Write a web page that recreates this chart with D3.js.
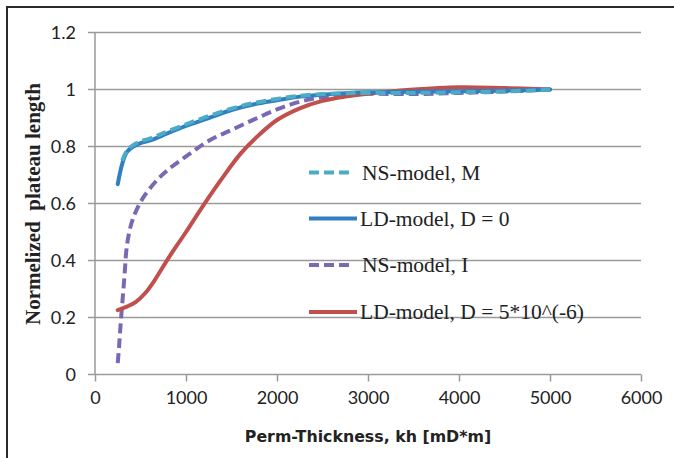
<!DOCTYPE html>
<html>
<head>
<meta charset="utf-8">
<script src="https://cdn.jsdelivr.net/npm/d3@7"></script>
<style>
  body { margin:0; background:#fff; }
  svg { display:block; }
</style>
</head>
<body>
<svg id="chart" width="674" height="458"></svg>
<script>
// values
var xTicks = [0, 1000, 2000, 3000, 4000, 5000, 6000]
  , yTicks = [0, 0.2, 0.4, 0.6, 0.8, 1, 1.2]

var nsMKh  = [300, 350, 420, 500, 625, 750, 1000, 1250, 1500, 1750, 2000, 2250, 2500, 2750, 3000, 3500, 4000, 4500, 5000]
  , nsMVal = [0.75, 0.785, 0.805, 0.818, 0.83, 0.847, 0.878, 0.907, 0.933, 0.953, 0.967, 0.978, 0.984, 0.987, 0.988, 0.988, 0.99, 0.993, 1.0]

var ld0Kh  = [250, 300, 350, 420, 500, 625, 750, 1000, 1250, 1500, 1750, 2000, 2250, 2500, 2750, 3000, 3500, 4000, 4500, 5000]
  , ld0Val = [0.668, 0.74, 0.78, 0.8, 0.812, 0.823, 0.84, 0.872, 0.9, 0.928, 0.948, 0.962, 0.975, 0.982, 0.987, 0.99, 0.992, 0.994, 0.996, 1.0]

var nsIKh  = [250, 265, 280, 300, 325, 350, 400, 475, 550, 675, 800, 1000, 1250, 1500, 1750, 2000, 2250, 2500, 2750, 3000, 3500, 4000, 4500, 5000]
  , nsIVal = [0.04, 0.1, 0.17, 0.25, 0.35, 0.45, 0.53, 0.59, 0.63, 0.68, 0.718, 0.765, 0.82, 0.858, 0.895, 0.93, 0.957, 0.973, 0.982, 0.985, 0.984, 0.988, 0.993, 1.0]

var ldDKh  = [250, 350, 450, 550, 650, 800, 1000, 1200, 1400, 1600, 1800, 2000, 2250, 2500, 2750, 3000, 3500, 4000, 4500, 5000]
  , ldDVal = [0.226, 0.238, 0.255, 0.285, 0.328, 0.405, 0.5, 0.598, 0.69, 0.775, 0.84, 0.893, 0.934, 0.96, 0.975, 0.985, 1.0, 1.008, 1.005, 1.0]

var seriesNames = ['NS-model, M', 'LD-model, D = 0', 'NS-model, I', 'LD-model, D = 5*10^(-6)']

var series = [
  { name:seriesNames[0], kh:nsMKh, val:nsMVal, color:'#4bacc6', dash:'10,5' }
  , { name:seriesNames[1], kh:ld0Kh, val:ld0Val, color:'#2f7fc1', dash:null }
  , { name:seriesNames[2], kh:nsIKh, val:nsIVal, color:'#7b68b3', dash:'10,5' }
  , { name:seriesNames[3], kh:ldDKh, val:ldDVal, color:'#c0504d', dash:null }
]

var svg = d3.select('#chart')
var plotL = 95, plotR = 641, plotT = 32.5, plotB = 374.5

var x = d3.scaleLinear().domain([0, 6000]).range([plotL, plotR])
var y = d3.scaleLinear().domain([0, 1.2]).range([plotB, plotT])

// outer frame, runs off the right and bottom edge
svg.append('rect')
  .attr('x', 7).attr('y', 7)
  .attr('width', 700).attr('height', 500)
  .attr('fill', 'none')
  .attr('stroke', '#2a2a2a')
  .attr('stroke-width', 2)

// gridlines
svg.append('g').selectAll('line')
    .data(yTicks)
  .enter().append('line')
    .attr('x1', plotL - 7).attr('x2', plotR)
    .attr('y1', function(d) { return y(d) }).attr('y2', function(d) { return y(d) })
    .attr('stroke', '#9a9a9a')
    .attr('stroke-width', 1.5)

// y axis line
svg.append('line')
  .attr('x1', plotL).attr('x2', plotL)
  .attr('y1', plotT).attr('y2', plotB)
  .attr('stroke', '#9a9a9a')
  .attr('stroke-width', 1.5)

var xAxis = d3.axisBottom(x).tickValues(xTicks).tickSize(7).tickPadding(10).tickFormat(d3.format('d'))
var gx = svg.append('g')
  .attr('transform', 'translate(0,' + plotB + ')')
  .call(xAxis)
gx.select('.domain').remove()
gx.selectAll('line').attr('stroke', '#9a9a9a').attr('stroke-width', 1.5)
gx.selectAll('text')
  .attr('fill', '#222')
  .style('font-family', 'Lato, "Open Sans", sans-serif')
  .style('font-size', '18px')

var yAxis = d3.axisLeft(y).tickValues(yTicks).tickSize(0).tickPadding(19).tickFormat(function(d) { return String(+d.toFixed(1)) })
var gy = svg.append('g')
  .attr('transform', 'translate(' + plotL + ',0)')
  .call(yAxis)
gy.select('.domain').remove()
gy.selectAll('text')
  .attr('fill', '#222')
  .style('font-family', 'Lato, "Open Sans", sans-serif')
  .style('font-size', '18px')

// curves, smoothed like the spreadsheet lines
var line = d3.line()
  .x(function(d) { return x(d[0]) })
  .y(function(d) { return y(d[1]) })
  .curve(d3.curveCatmullRom.alpha(0.5))

// draw order: purple, red, blue, cyan on top
var drawOrder = [2, 3, 1, 0]
drawOrder.forEach(function(i) {
  var s = series[i]
  svg.append('path')
    .datum(s.kh.map(function(k, j) { return [k, s.val[j]] }))
    .attr('d', line)
    .attr('fill', 'none')
    .attr('stroke', s.color)
    .attr('stroke-width', 4)
    .attr('stroke-linecap', s.dash ? 'butt' : 'round')
    .attr('stroke-dasharray', s.dash)
})

// legend
var legY = [172.5, 218.5, 265, 312]
var leg = svg.append('g').selectAll('g')
    .data(series)
  .enter().append('g')
    .attr('transform', function(d, i) { return 'translate(309,' + legY[i] + ')' })

leg.append('line')
  .attr('x1', 0).attr('x2', function(d) { return d.dash ? 44 : 48 })
  .attr('y1', 0).attr('y2', 0)
  .attr('stroke', function(d) { return d.color })
  .attr('stroke-width', 4)
  .attr('stroke-dasharray', function(d) { return d.dash })

leg.append('text')
  .attr('x', function(d) { return d.dash ? 53 : 51 })
  .attr('y', 7)
  .attr('fill', '#222')
  .style('font-family', '"Liberation Serif", "Times New Roman", serif')
  .style('font-size', '21.5px')
  .text(function(d) { return d.name })

// axis titles
svg.append('text')
  .attr('x', 368).attr('y', 442)
  .attr('text-anchor', 'middle')
  .attr('fill', '#222')
  .style('font-family', '"DejaVu Sans", Verdana, sans-serif')
  .style('font-weight', 'bold')
  .style('font-size', '15.8px')
  .text('Perm-Thickness, kh [mD*m]')

svg.append('text')
  .attr('transform', 'translate(40,204) rotate(-90)')
  .attr('text-anchor', 'middle')
  .attr('fill', '#222')
  .style('font-family', '"Liberation Serif", "Times New Roman", serif')
  .style('font-weight', 'bold')
  .style('font-size', '21px')
  .style('white-space', 'pre')
  .text('Normelized  plateau length')
</script>
</body>
</html>
